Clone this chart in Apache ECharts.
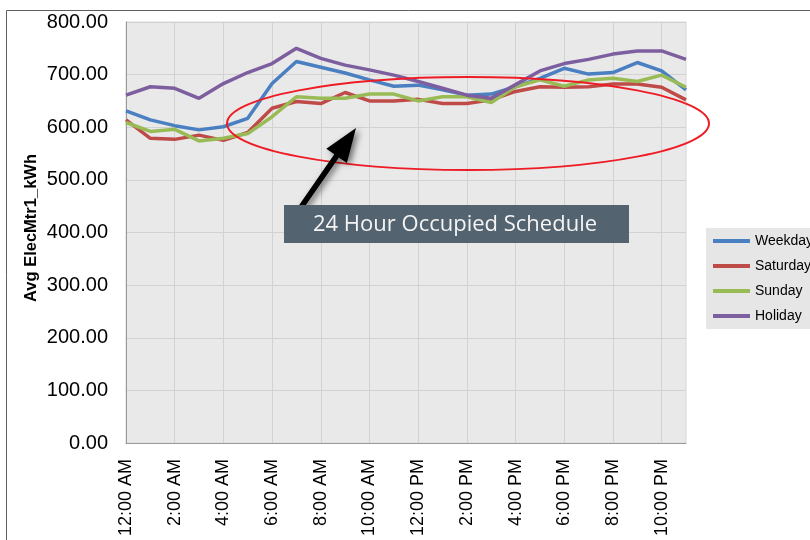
<!DOCTYPE html>
<html>
<head>
<meta charset="utf-8">
<script src="https://cdn.jsdelivr.net/npm/echarts@6/dist/echarts.min.js"></script>
<style>
  html, body { margin: 0; padding: 0; background: #ffffff; }
  #chart { width: 810px; height: 540px; }
</style>
</head>
<body>
<div id="chart"></div>
<script>
// Hourly average electricity use by day type
const hours = [
  '12:00 AM', '1:00 AM', '2:00 AM', '3:00 AM', '4:00 AM', '5:00 AM',
  '6:00 AM', '7:00 AM', '8:00 AM', '9:00 AM', '10:00 AM', '11:00 AM',
  '12:00 PM', '1:00 PM', '2:00 PM', '3:00 PM', '4:00 PM', '5:00 PM',
  '6:00 PM', '7:00 PM', '8:00 PM', '9:00 PM', '10:00 PM', '11:00 PM'
];
const weekday  = [631, 614, 603, 595, 601, 617, 683, 725, 714, 703, 690, 678, 680, 671, 661, 663, 677, 693, 712, 701, 704, 723, 707, 671];
const saturday = [614, 579, 577, 585, 575, 590, 636, 649, 645, 666, 650, 650, 653, 645, 645, 652, 668, 677, 676, 677, 682, 682, 676, 652];
const sunday   = [609, 592, 596, 574, 579, 588, 620, 658, 655, 655, 663, 663, 650, 658, 658, 647, 677, 690, 678, 690, 693, 687, 699, 676];
const holiday  = [661, 677, 674, 655, 683, 704, 721, 750, 731, 718, 709, 699, 687, 674, 661, 655, 681, 707, 721, 729, 739, 745, 745, 729];

const seriesNames = ['Weekday', 'Saturday', 'Sunday', 'Holiday'];
const seriesColors = ['#4a7fc1', '#be4b48', '#98bb55', '#7d5fa0'];
const yTicks = { min: 0, max: 800, step: 100 };
const yTitle = 'Avg ElecMtr1_kWh';
const calloutText = '24 Hour Occupied Schedule';

const FONT = "'Liberation Sans', Arial, sans-serif";

// Block arrow polygon from tail to tip
function arrowPoints(tail, tip, shaftHalf, headLen, headHalf) {
  const dx = tip[0] - tail[0], dy = tip[1] - tail[1];
  const len = Math.hypot(dx, dy);
  const ux = dx / len, uy = dy / len;
  const nx = -uy, ny = ux;
  const bx = tip[0] - ux * headLen, by = tip[1] - uy * headLen;
  return [
    [tail[0] + nx * shaftHalf, tail[1] + ny * shaftHalf],
    [bx + nx * shaftHalf, by + ny * shaftHalf],
    [bx + nx * headHalf, by + ny * headHalf],
    [tip[0], tip[1]],
    [bx - nx * headHalf, by - ny * headHalf],
    [bx - nx * shaftHalf, by - ny * shaftHalf],
    [tail[0] - nx * shaftHalf, tail[1] - ny * shaftHalf]
  ];
}

const dataSets = [weekday, saturday, sunday, holiday];

const chart = echarts.init(document.getElementById('chart'), null, { renderer: 'canvas' });

chart.setOption({
  animation: false,
  backgroundColor: '#ffffff',
  textStyle: { fontFamily: FONT },
  grid: {
    left: 126, top: 22, right: 124, bottom: 97,
    show: true,
    backgroundColor: '#e9e9e9',
    borderColor: '#d6d6d6',
    borderWidth: 1
  },
  legend: {
    orient: 'vertical',
    left: 706, top: 228,
    padding: [6, 12, 6, 7],
    backgroundColor: '#e6e6e6',
    icon: 'rect',
    itemWidth: 37, itemHeight: 4,
    itemGap: 11,
    textStyle: { fontFamily: FONT, fontSize: 14, color: '#000', lineHeight: 14 },
    data: seriesNames
  },
  xAxis: {
    type: 'category',
    data: hours,
    boundaryGap: false,
    axisLine: { lineStyle: { color: '#9a9a9a', width: 1 } },
    axisTick: { show: false },
    axisLabel: {
      interval: 1,
      rotate: 90,
      margin: 16,
      fontSize: 18,
      color: '#000',
      fontFamily: FONT
    },
    splitLine: { show: true, interval: 1, lineStyle: { color: '#d2d2d2', width: 1 } }
  },
  yAxis: {
    type: 'value',
    min: yTicks.min, max: yTicks.max, interval: yTicks.step,
    axisLine: { show: true, lineStyle: { color: '#9a9a9a', width: 1 } },
    axisTick: { show: false },
    axisLabel: {
      margin: 18,
      fontSize: 20,
      color: '#000',
      fontFamily: FONT,
      formatter: v => v.toFixed(2)
    },
    splitLine: { show: true, lineStyle: { color: '#d2d2d2', width: 1 } }
  },
  series: seriesNames.map((name, i) => ({
    name,
    type: 'line',
    data: dataSets[i],
    showSymbol: false,
    symbol: 'none',
    color: seriesColors[i],
    lineStyle: { width: 3.5, color: seriesColors[i] },
    z: 3
  })),
  graphic: [
    // outer frame
    {
      type: 'rect', silent: true, z: 0,
      shape: { x: 6.5, y: 10.5, width: 900, height: 600 },
      style: { fill: 'none', stroke: '#5e5e5e', lineWidth: 1 }
    },
    // axis title
    {
      type: 'text', silent: true,
      x: 31, y: 228, rotation: Math.PI / 2,
      style: {
        text: yTitle, fontFamily: FONT, fontSize: 16.5, fontWeight: 'bold',
        fill: '#000', align: 'center', verticalAlign: 'middle'
      }
    },
    // highlight ellipse
    {
      type: 'ellipse', silent: true, z: 10,
      shape: { cx: 468, cy: 123.5, rx: 241, ry: 46.5 },
      style: { fill: 'none', stroke: '#ee1c25', lineWidth: 2 }
    },
    // callout arrow
    {
      type: 'polygon', silent: true, z: 11,
      shape: { points: arrowPoints([297, 213], [356, 128], 2.8, 34, 12.5) },
      style: {
        fill: '#000000',
        shadowBlur: 6, shadowColor: 'rgba(0,0,0,0.55)',
        shadowOffsetX: 3, shadowOffsetY: 2
      }
    },
    // callout box
    {
      type: 'rect', silent: true, z: 12,
      shape: { x: 284, y: 205, width: 345, height: 38 },
      style: { fill: '#546370' }
    },
    {
      type: 'text', silent: true, z: 13,
      x: 313, y: 224.5,
      style: {
        text: calloutText, fontFamily: "'Open Sans', sans-serif", fontSize: 22,
        fill: '#f4f4f4', align: 'left', verticalAlign: 'middle'
      }
    }
  ]
});
</script>
</body>
</html>
